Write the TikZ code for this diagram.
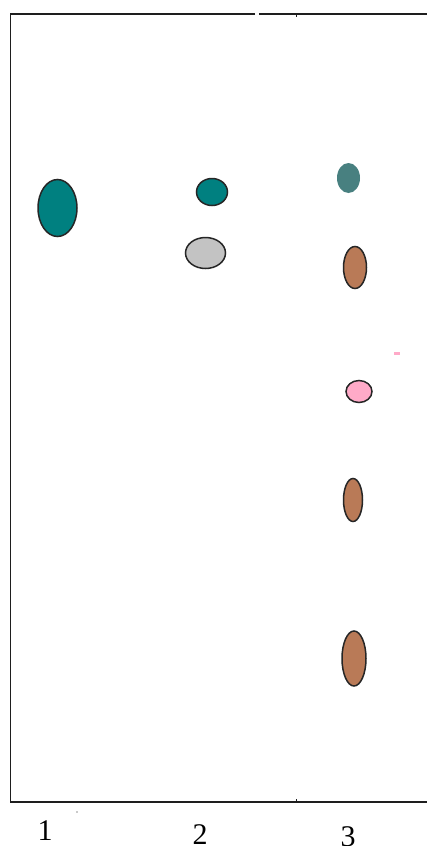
\documentclass[tikz,border=0pt]{standalone}
\usepackage{fontspec}
\setmainfont{Liberation Serif}
\usetikzlibrary{shapes.geometric}
\definecolor{teal1}{RGB}{0,128,128}
\definecolor{teal2}{RGB}{72,128,128}
\definecolor{gray1}{RGB}{195,195,195}
\definecolor{brown1}{RGB}{185,122,87}
\definecolor{pink1}{RGB}{255,170,200}
\definecolor{frame}{RGB}{30,30,30}
\tikzset{
  spot/.style={ellipse, draw=black!85, line width=1.5pt, inner sep=0pt},
  flatspot/.style={ellipse, draw=none, inner sep=0pt},
  framel/.style={draw=frame, line width=1.5pt},
  lane/.style={font=\fontsize{30}{30}\selectfont, inner sep=0pt}
}
\begin{document}
\begin{tikzpicture}[x=1pt,y=-1pt]
\useasboundingbox[fill=white] (0,0) rectangle (427,846);
% frame
\coordinate (tl) at (10.5,14);
\coordinate (bl) at (10.5,802);
\coordinate (br) at (427,802);
\coordinate (g1) at (255,14);
\coordinate (g2) at (259,14);
\coordinate (tr) at (427,14);
\draw[framel] (g1) -- (tl) -- (bl) -- (br);
\draw[framel] (g2) -- (tr);
\draw[frame, line width=1pt] (296,14) -- (296,17);
\draw[frame, line width=1pt] (296,802) -- (296,799);
\fill[frame] (77,812) circle (0.7);
% lane 1
\node[spot, fill=teal1, minimum width=39pt, minimum height=57pt] (a1) at (57.5,208) {};
% lane 2
\node[spot, fill=teal1, minimum width=31pt, minimum height=27pt] (b1) at (212,192) {};
\node[spot, fill=gray1, minimum width=40pt, minimum height=31pt] (b2) at (205.5,253) {};
% lane 3
\node[flatspot, fill=teal2, minimum width=23pt, minimum height=30pt] (c1) at (348.5,178) {};
\node[spot, fill=brown1, minimum width=23pt, minimum height=42pt] (c2) at (355,267.5) {};
\node[spot, fill=pink1, minimum width=26pt, minimum height=22pt] (c3) at (359,391.5) {};
\node[spot, fill=brown1, minimum width=19pt, minimum height=43pt] (c4) at (353,500) {};
\node[spot, fill=brown1, minimum width=24pt, minimum height=55pt] (c5) at (354,658.5) {};
\fill[pink1] (393.5,352) rectangle (399.5,355) coordinate (pd);
% labels
\node[lane] (l1) at (45,831) {1};
\node[lane] (l2) at (200,835) {2};
\node[lane] (l3) at (348,837) {3};
\end{tikzpicture}
\end{document}
